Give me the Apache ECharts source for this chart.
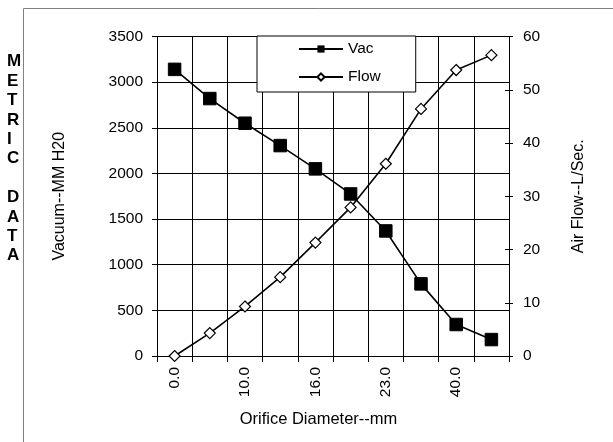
<!DOCTYPE html>
<html><head><meta charset="utf-8">
<script src="https://cdn.jsdelivr.net/npm/echarts@6/dist/echarts.min.js"></script>
<style>html,body{margin:0;padding:0;background:#fff}#c{width:613px;height:442px}</style>
</head><body><div id="c"></div>
<script>
// Orifice diameters (labels shown every other category; in-between values are not printed on the chart)
const categories = ['0.0','5.0','10.0','13.0','16.0','19.0','23.0','30.0','40.0','50.0'];
const vacValues = [3140, 2820, 2550, 2305, 2050, 1775, 1370, 790, 345, 180];
const flowValues = [0, 4.3, 9.3, 14.8, 21.3, 27.9, 36.1, 46.4, 53.7, 56.5];
const vacTicks = {min: 0, max: 3500, interval: 500};
const flowTicks = {min: 0, max: 60, interval: 10};
const sideLetters = ['M','E','T','R','I','C','','D','A','T','A'];

const FONT = 'Liberation Sans, Arial, sans-serif';
const plain = v => String(v);
const chart = echarts.init(document.getElementById('c'), null, {renderer: 'canvas'});
chart.setOption({
  animation: false,
  backgroundColor: '#fff',
  textStyle: {fontFamily: FONT, color: '#000'},
  graphic: [
    {type: 'rect', shape: {x: 23.5, y: 8.5, width: 700, height: 500}, style: {fill: 'none', stroke: '#808080', lineWidth: 1}, z: -1},
    {type: 'text', left: 7, top: 52, style: {text: sideLetters.join('\n'), font: 'bold 17px ' + FONT, lineHeight: 19.4, fill: '#000'}}
  ],
  legend: {
    left: 257, top: 36,
    orient: 'vertical',
    backgroundColor: '#fff', borderColor: '#000', borderWidth: 1, borderRadius: 0,
    padding: [5, 35, 7, 41],
    itemWidth: 44, itemHeight: 9, itemGap: 12,
    textStyle: {fontSize: 15.5, lineHeight: 16, color: '#000', fontFamily: FONT},
    data: ['Vac', 'Flow']
  },
  grid: {left: 157, right: 104, top: 36.5, bottom: 86, containLabel: false},
  xAxis: {
    type: 'category', data: categories, boundaryGap: true,
    name: 'Orifice Diameter--mm', nameLocation: 'middle', nameGap: 55,
    nameTextStyle: {fontSize: 16.5, color: '#000', padding: [0, 29, 0, 0]},
    axisLine: {lineStyle: {color: '#000', width: 1}},
    axisTick: {show: true, interval: 0, length: 6, lineStyle: {color: '#000'}},
    axisLabel: {interval: 1, rotate: 90, fontSize: 15.5, color: '#000', margin: 11},
    splitLine: {show: true, interval: 0, lineStyle: {color: '#000', width: 1}}
  },
  yAxis: [
    {
      type: 'value', position: 'left', min: vacTicks.min, max: vacTicks.max, interval: vacTicks.interval,
      name: 'Vacuum--MM H20', nameLocation: 'middle', nameRotate: 90, nameGap: 89,
      nameTextStyle: {fontSize: 16, color: '#000'},
      axisLine: {show: true, lineStyle: {color: '#000'}},
      axisTick: {show: true, length: 5, lineStyle: {color: '#000'}},
      axisLabel: {fontSize: 15.5, color: '#000', margin: 14, formatter: plain},
      splitLine: {show: true, lineStyle: {color: '#000', width: 1}}
    },
    {
      type: 'value', position: 'right', min: flowTicks.min, max: flowTicks.max, interval: flowTicks.interval,
      name: 'Air Flow--L/Sec.', nameLocation: 'middle', nameRotate: 90, nameGap: 62,
      nameTextStyle: {fontSize: 16, color: '#000'},
      axisLine: {show: true, lineStyle: {color: '#000'}},
      axisTick: {show: true, length: 4, lineStyle: {color: '#000'}},
      axisLabel: {fontSize: 15.5, color: '#000', margin: 14, formatter: plain},
      splitLine: {show: false}
    },
    {
      type: 'value', position: 'right', min: flowTicks.min, max: flowTicks.max, interval: flowTicks.interval,
      axisLine: {show: false},
      axisTick: {show: true, inside: true, length: 4, lineStyle: {color: '#000'}},
      axisLabel: {show: false},
      splitLine: {show: false}
    }
  ],
  series: [
    {
      name: 'Vac', type: 'line', yAxisIndex: 0, data: vacValues,
      symbol: 'rect', symbolSize: 12.5,
      lineStyle: {color: '#000', width: 1.6},
      itemStyle: {color: '#000', borderColor: '#000'},
      z: 3
    },
    {
      name: 'Flow', type: 'line', yAxisIndex: 1, data: flowValues,
      symbol: 'diamond', symbolSize: 11,
      lineStyle: {color: '#000', width: 1.6},
      itemStyle: {color: '#fff', borderColor: '#000', borderWidth: 1.2},
      z: 4
    }
  ]
});
</script></body></html>
